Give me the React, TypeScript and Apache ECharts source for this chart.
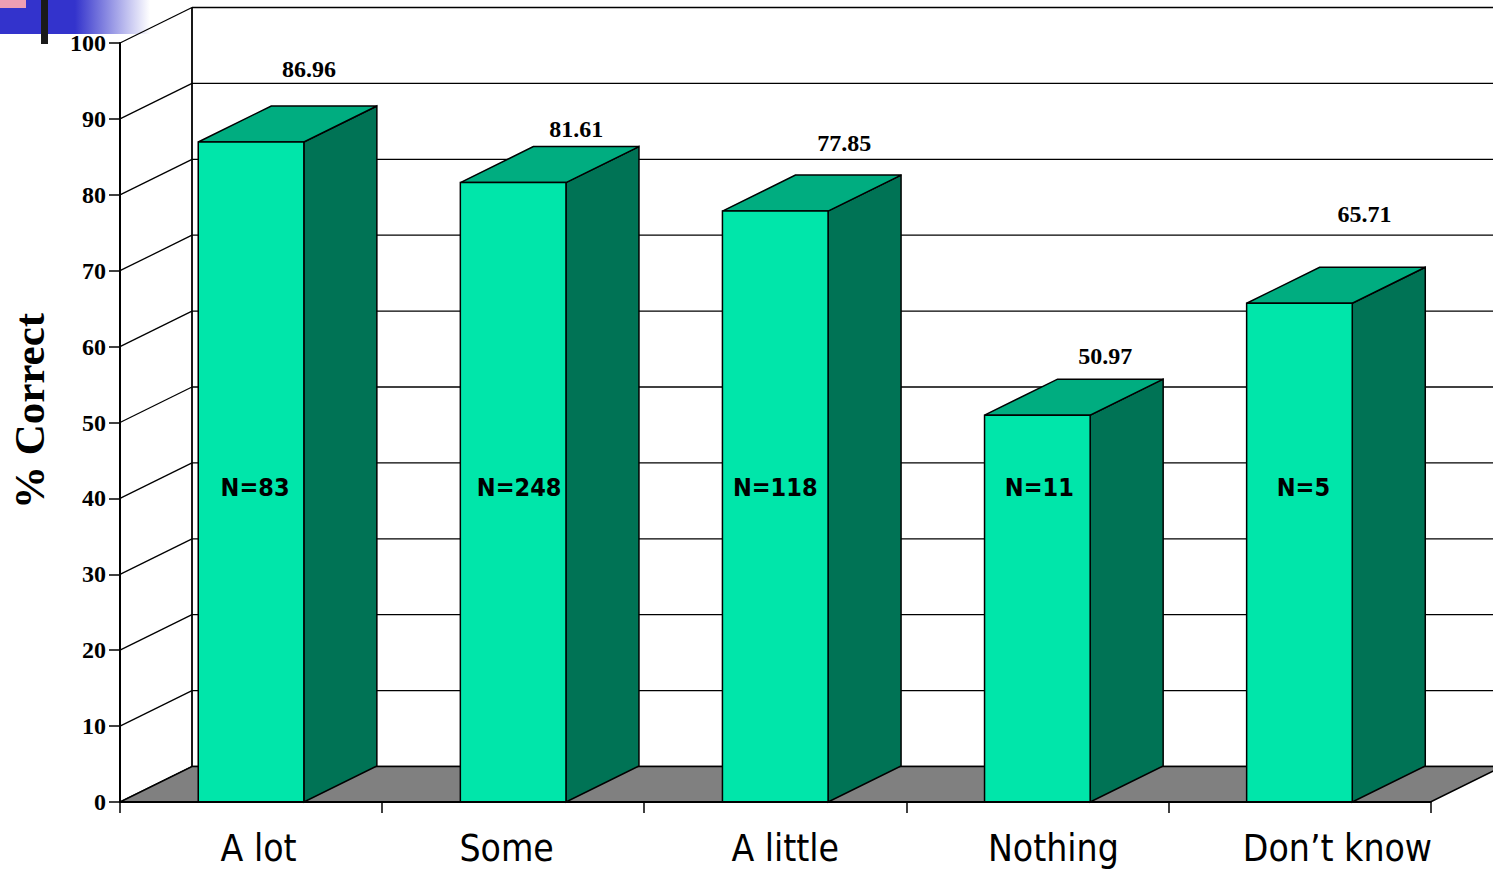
import React, { useEffect, useRef } from "react";
import * as echarts from "echarts";

// Survey results: share of correct answers by self-reported knowledge level.
const categories = ["A lot", "Some", "A little", "Nothing", "Don’t know"];
const percentCorrect = [86.96, 81.61, 77.85, 50.97, 65.71];
const sampleLabels = ["N=83", "N=248", "N=118", "N=11", "N=5"];
const yTicks = [0, 10, 20, 30, 40, 50, 60, 70, 80, 90, 100];

// Hand-placed annotation nudges, in pixels from each bar's centre / top.
const valueLabelDx = [58, 63, 69, 68, 65];
const valueLabelDy = [-73, -54, -68, -59, -89];
const sampleLabelDx = [4, 6, 0, 2, 4];
const categoryLabelDx = [7.5, -6.5, 10, 16, 38];
const SAMPLE_LABEL_LEVEL = 41.5;

const WALL_DX = 72;
const WALL_DY = 35.5;
const BAR_DX = 73;
const BAR_DY = 36;
const INK = "#000000";
const SERIF = "'Liberation Serif', serif";
const SANS = "'DejaVu Sans Condensed', 'DejaVu Sans', sans-serif";

const floorItem = (params: any, api: any) => {
  const cs = params.coordSys;
  const y0 = cs.y + cs.height;
  const x0 = cs.x;
  const x1 = cs.x + cs.width;
  return {
    type: "polygon",
    shape: {
      points: [
        [x0, y0],
        [x0 + WALL_DX, y0 - WALL_DY],
        [x1 + WALL_DX, y0 - WALL_DY],
        [x1, y0],
      ],
    },
    style: { fill: "#808080", stroke: INK, lineWidth: 1.5 },
  };
};

const wallItem = (params: any, api: any) => {
  const cs = params.coordSys;
  const y = api.coord([0, api.value(1)])[1];
  const x0 = cs.x;
  const line = { stroke: INK, lineWidth: 1.3 };
  const children: any[] = [
    { type: "line", shape: { x1: x0, y1: y, x2: x0 + WALL_DX, y2: y - WALL_DY }, style: line },
    { type: "line", shape: { x1: x0 + WALL_DX, y1: y - WALL_DY, x2: 1500, y2: y - WALL_DY }, style: line },
  ];
  if (params.dataIndex === 0) {
    children.push({
      type: "line",
      shape: { x1: x0 + WALL_DX, y1: cs.y - WALL_DY, x2: x0 + WALL_DX, y2: y - WALL_DY },
      style: { stroke: INK, lineWidth: 1.8 },
    });
  }
  return { type: "group", children };
};

const barItem = (params: any, api: any) => {
  const i = api.value(0);
  const [cx, top] = api.coord([i, api.value(1)]);
  const base = api.coord([i, 0])[1];
  const w = api.size([1, 0])[0] * 0.403;
  const l = cx - w / 2;
  const r = cx + w / 2;
  const edge = { stroke: INK, lineWidth: 1.5, lineJoin: "miter" };
  return {
    type: "group",
    children: [
      {
        type: "polygon",
        shape: { points: [[r, top], [r + BAR_DX, top - BAR_DY], [r + BAR_DX, base - BAR_DY], [r, base]] },
        style: { fill: "#007355", ...edge },
      },
      {
        type: "polygon",
        shape: { points: [[l, top], [l + BAR_DX, top - BAR_DY], [r + BAR_DX, top - BAR_DY], [r, top]] },
        style: { fill: "#00AD80", ...edge },
      },
      {
        type: "rect",
        shape: { x: l, y: top, width: w, height: base - top },
        style: { fill: "#00E6AA", ...edge },
      },
      {
        type: "text",
        x: cx + valueLabelDx[i],
        y: top + valueLabelDy[i],
        style: {
          text: percentCorrect[i].toFixed(2),
          fill: INK,
          font: `bold 24px ${SERIF}`,
          align: "center",
          verticalAlign: "middle",
        },
      },
      {
        type: "text",
        x: cx + sampleLabelDx[i],
        y: api.coord([i, SAMPLE_LABEL_LEVEL])[1],
        style: {
          text: sampleLabels[i],
          fill: INK,
          font: `bold 25px ${SANS}`,
          align: "center",
          verticalAlign: "middle",
        },
      },
    ],
  };
};

export default function App() {
  const ref = useRef<HTMLDivElement>(null);

  useEffect(() => {
    document.body.style.margin = "0";
    document.body.style.background = "#ffffff";
    const chart = echarts.init(ref.current!, undefined, { renderer: "svg" });
    chart.setOption({
      animation: false,
      backgroundColor: "#ffffff",
      tooltip: { show: false },
      grid: { left: 120, right: 62.5, top: 43, bottom: 67, outerBoundsMode: "none" },
      xAxis: {
        type: "category",
        data: categories.map((value, i) => ({
          value,
          textStyle: {
            padding: categoryLabelDx[i] > 0 ? [0, 0, 0, categoryLabelDx[i] * 2] : [0, -categoryLabelDx[i] * 2, 0, 0],
          },
        })),
        boundaryGap: true,
        axisLine: { show: true, lineStyle: { color: INK, width: 2 } },
        axisTick: { show: true, alignWithLabel: false, length: 11, lineStyle: { color: INK, width: 1.5 } },
        axisLabel: { interval: 0, margin: 28, color: INK, fontFamily: SANS, fontSize: 37 },
        z: 10,
      },
      yAxis: {
        type: "value",
        min: 0,
        max: 100,
        interval: 10,
        name: "% Correct",
        nameLocation: "middle",
        nameGap: 69,
        nameRotate: 90,
        nameTextStyle: {
          color: INK,
          fontFamily: SERIF,
          fontWeight: "bold",
          fontSize: 43,
          padding: [0, 0, 0, 23],
        },
        splitLine: { show: false },
        axisLine: { show: true, lineStyle: { color: INK, width: 2 } },
        axisTick: { show: true, length: 11, lineStyle: { color: INK, width: 1.5 } },
        axisLabel: { margin: 14, color: INK, fontFamily: SERIF, fontWeight: "bold", fontSize: 24 },
        z: 10,
      },
      graphic: [
        // Slide template ornament in the top-left corner.
        {
          type: "rect",
          z: -1,
          shape: { x: 0, y: 0, width: 150, height: 34 },
          style: {
            fill: new echarts.graphic.LinearGradient(0, 0, 1, 0, [
              { offset: 0, color: "#3333CC" },
              { offset: 0.5, color: "#3333CC" },
              { offset: 1, color: "#FFFFFF" },
            ]),
          },
        },
        { type: "rect", z: -1, shape: { x: 0, y: 0, width: 26, height: 8 }, style: { fill: "#EE9FB4" } },
        { type: "rect", z: -1, shape: { x: 41, y: 0, width: 7, height: 44 }, style: { fill: "#1A1A1A" } },
      ],
      series: [
        { type: "custom", name: "Wall", z: 2, silent: true, renderItem: wallItem, encode: { x: 0, y: 1 }, data: yTicks.map((t) => [0, t]) },
        { type: "custom", name: "Floor", z: 3, silent: true, renderItem: floorItem, encode: { x: 0, y: 1 }, data: [[0, 0]] },
        { type: "custom", name: "% Correct", z: 4, silent: true, renderItem: barItem, encode: { x: 0, y: 1 }, data: percentCorrect.map((v, i) => [i, v]) },
      ],
    });
    return () => chart.dispose();
  }, []);

  return <div ref={ref} style={{ width: 1493, height: 869 }} />;
}
